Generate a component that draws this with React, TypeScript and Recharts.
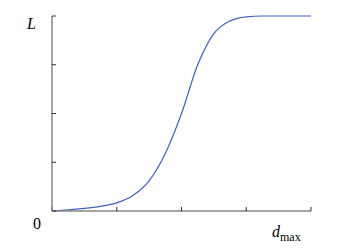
import { LineChart, Line, XAxis, YAxis } from 'recharts';

// values (x in tick units, L normalised to 1)
const dmax = [0, 0.25, 0.5, 0.75, 1, 1.25, 1.5, 1.75, 2, 2.25, 2.5, 2.75, 3, 3.25, 3.5, 3.75, 4];
const L = [0, 0.006, 0.013, 0.024, 0.042, 0.08, 0.155, 0.295, 0.5, 0.75, 0.91, 0.975, 0.996, 1, 1, 1, 1];
const xTicks = [0, 1, 2, 3, 4];
const yTicks = [0, 0.25, 0.5, 0.75, 1];

const data = dmax.map((d, i) => ({ d, L: L[i] }));

const axisColor = '#858585';
const serif = '"Liberation Serif", "DejaVu Serif", serif';

export default function App() {
    return (
        <div style={{ position: 'absolute', left: 0, top: 0, width: 342, height: 251, background: '#fff' }}>
            <LineChart width={342} height={251} data={data} margin={{ top: 16, right: 31, bottom: 40, left: 52 }}>
                <XAxis
                    type="number" dataKey="d" domain={[0, 4]} ticks={xTicks}
                    height={1} mirror
                    axisLine={{ stroke: axisColor, strokeWidth: 1.5 }}
                    tickLine={{ stroke: '#333', strokeWidth: 1 }} tickSize={4}
                    tick={() => <g />}
                />
                <YAxis
                    type="number" domain={[0, 1]} ticks={yTicks}
                    width={1} mirror
                    axisLine={{ stroke: axisColor, strokeWidth: 1.5 }}
                    tickLine={{ stroke: '#333', strokeWidth: 1 }} tickSize={4}
                    tick={() => <g />}
                />
                <Line type="monotone" dataKey="L" stroke="#3b62c4" strokeWidth={1.2} dot={false} isAnimationActive={false} />
            </LineChart>
            <span style={{ position: 'absolute', left: 27, top: 15, fontFamily: serif, fontStyle: 'italic', fontSize: 16, lineHeight: '18px' }}>L</span>
            <span style={{ position: 'absolute', left: 33, top: 215, fontFamily: serif, fontSize: 16, lineHeight: '18px' }}>0</span>
            <span style={{ position: 'absolute', left: 272, top: 223, fontFamily: serif, fontSize: 16, lineHeight: '18px', whiteSpace: 'nowrap' }}>
                <i>d</i><sub style={{ fontSize: 12, verticalAlign: '-4px' }}>max</sub>
            </span>
        </div>
    );
}
